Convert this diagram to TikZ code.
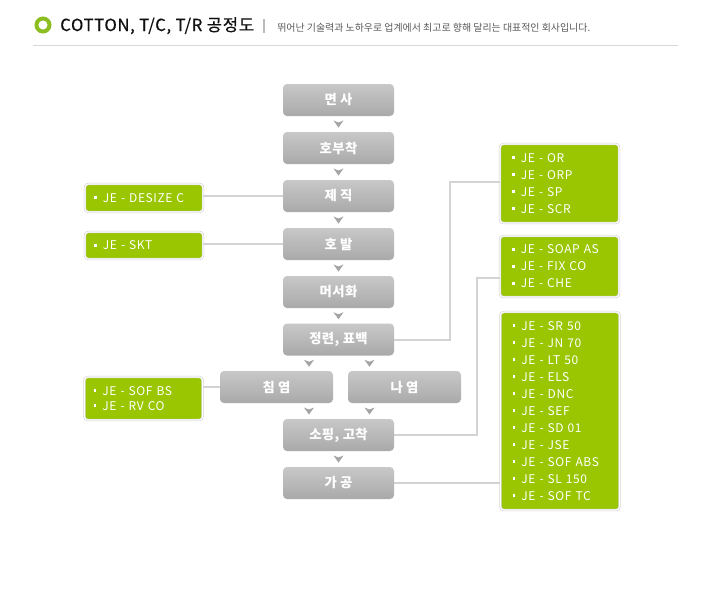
\documentclass[tikz,border=0pt]{standalone}
\usepackage{fontspec}
\setmainfont{Noto Sans CJK KR}
\usetikzlibrary{calc}
\definecolor{jgreen}{HTML}{99C600}
\definecolor{ringgreen}{HTML}{8CBE22}
\definecolor{procTop}{HTML}{C8C8C8}
\definecolor{procBot}{HTML}{A9A9A9}
\definecolor{chevgray}{HTML}{A4A4A4}
\definecolor{connGray}{HTML}{D3D3D3}
\definecolor{gboxline}{HTML}{D0D0D0}
\definecolor{titleblack}{HTML}{111111}
\definecolor{subgray}{HTML}{5A5A5A}
\definecolor{sepgray}{HTML}{BBBBBB}
\definecolor{rulegray}{HTML}{D8D8D8}
\newcommand\sqbul{\raisebox{2.3pt}{\rule{2.2pt}{2.2pt}}\hspace{4.5pt}}
\begin{document}
\begin{tikzpicture}[x=0.75pt,y=-0.75pt,
  proc/.style={rounded corners=3pt, top color=procTop, bottom color=procBot,
    draw=none, minimum width=83.25pt, minimum height=24pt, inner sep=0pt,
    text=white, font=\bfseries\fontsize{10}{12}\selectfont\addfontfeature{LetterSpace=3}},
  procw/.style={proc, minimum width=84.75pt},
  gbox/.style={rounded corners=2.5pt, fill=jgreen, draw=gboxline, line width=0.45pt,
    double=white, double distance=0.8pt, text=white, align=left,
    font=\fontsize{9}{12.75}\selectfont\addfontfeature{LetterSpace=5}, inner ysep=0pt},
  gright/.style={gbox, text width=71.25pt, inner xsep=9pt},
  gleft/.style={gbox, text width=75pt, inner xsep=6.75pt},
  conn/.style={connGray, line width=1.5pt},
  chev/.pic={\fill[chevgray] (-5,-3.5) -- (0,-1.5) -- (5,-3.5) -- (0,3.5) -- cycle;}
]
\useasboundingbox (0,0) rectangle (708,593);
\fill[white] (0,0) rectangle (708,593);

% header
\node[circle, draw=ringgreen, line width=3pt, minimum size=9.75pt, inner sep=0pt] (ring) at (43,25) {};
\node[anchor=base west, inner sep=0pt, font=\fontsize{12.5}{14}\selectfont\addfontfeature{LetterSpace=4,FakeBold=0.6}, text=titleblack] (title) at (60,31) {COTTON, T/C, T/R 공정도};
\draw[sepgray, line width=1.5pt] (263.5,19) -- (263.5,33);
\node[anchor=base west, inner sep=0pt, font=\fontsize{7.45}{9}\selectfont, text=subgray] (sub) at (277,31) {뛰어난 기술력과 노하우로 업계에서 최고로 향해 달리는 대표적인 회사입니다.};
\draw[rulegray, line width=0.75pt] (33,45.5) -- (678,45.5);

% process nodes
\node[proc] (myeon) at (338.5,100) {면 사};
\node[proc] (hobu) at (338.5,148) {호부착};
\node[proc] (jejik) at (338.5,196) {제 직};
\node[proc] (hobal) at (338.5,244) {호 발};
\node[proc] (merc) at (338.5,292) {머서화};
\node[proc] (jr) at (338.5,339.5) {정련, 표백};
\node[procw] (chim) at (276.5,387) {침 염};
\node[procw] (na) at (404.5,387) {나 염};
\node[proc] (sp) at (338.5,435) {소핑, 고착};
\node[proc] (ga) at (338.5,483) {가 공};

% chevrons
\path (myeon) -- (hobu) pic[pos=.5]{chev};
\path (hobu) -- (jejik) pic[pos=.5]{chev};
\path (jejik) -- (hobal) pic[pos=.5]{chev};
\path (hobal) -- (merc) pic[pos=.5]{chev};
\path (merc) -- (jr) pic[pos=.5]{chev};
\coordinate (a1) at ($(jr.south)+(-29.5,0)$);
\coordinate (a2) at ($(jr.south)+(31,0)$);
\path (a1) -- (a1 |- chim.north) pic[pos=.5]{chev};
\path (a2) -- (a2 |- na.north) pic[pos=.5]{chev};
\coordinate (b1) at ($(sp.north)+(-29.5,0)$);
\coordinate (b2) at ($(sp.north)+(31,0)$);
\path (b1 |- chim.south) -- (b1) pic[pos=.5]{chev};
\path (b2 |- na.south) -- (b2) pic[pos=.5]{chev};
\path (sp) -- (ga) pic[pos=.5]{chev};

% green boxes
\node[gleft, minimum height=21pt] (l1) at (144,198) {\sqbul JE - DESIZE C};
\node[gleft, minimum height=20.25pt] (l2) at (144,245.5) {\sqbul JE - SKT};
\node[gleft, minimum height=32.25pt, font=\fontsize{9}{11.25}\selectfont\addfontfeature{LetterSpace=5}] (l3) at (143.5,398.5) {\sqbul JE - SOF BS\\\sqbul JE - RV CO};
\node[gright, minimum height=59.25pt] (r1) at (559.5,183.5) {\sqbul JE - OR\\\sqbul JE - ORP\\\sqbul JE - SP\\\sqbul JE - SCR};
\node[gright, minimum height=45.75pt] (r2) at (559.5,266.5) {\sqbul JE - SOAP AS\\\sqbul JE - FIX CO\\\sqbul JE - CHE};
\node[gright, minimum height=148.5pt] (r3) at (560,411) {\sqbul JE - SR 50\\\sqbul JE - JN 70\\\sqbul JE - LT 50\\\sqbul JE - ELS\\\sqbul JE - DNC\\\sqbul JE - SEF\\\sqbul JE - SD 01\\\sqbul JE - JSE\\\sqbul JE - SOF ABS\\\sqbul JE - SL 150\\\sqbul JE - SOF TC};

% connectors
\draw[conn] (jejik.west) -- (jejik.west -| l1.east);
\draw[conn] (hobal.west) -- (hobal.west -| l2.east);
\draw[conn] (chim.west) -- (chim.west -| l3.east);
\draw[conn] (jr.east) -| ($(r1.west)+(-50,-1.5)$) -- ($(r1.west)+(0,-1.5)$);
\draw[conn] (sp.east) -| ($(r2.west)+(-23,11)$) -- ($(r2.west)+(0,11)$);
\draw[conn] (ga.east) -- (ga.east -| r3.west);
\end{tikzpicture}
\end{document}
